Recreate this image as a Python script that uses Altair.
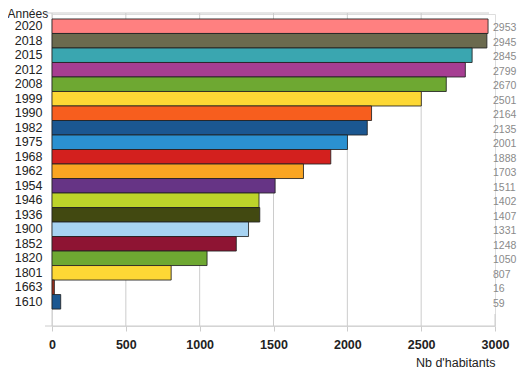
import altair as alt
import pandas as pd

years = ["2020", "2018", "2015", "2012", "2008", "1999", "1990", "1982", "1975", "1968",
         "1962", "1954", "1946", "1936", "1900", "1852", "1820", "1801", "1663", "1610"]
population = [2953, 2945, 2845, 2799, 2670, 2501, 2164, 2135, 2001, 1888,
              1703, 1511, 1402, 1407, 1331, 1248, 1050, 807, 16, 59]
bar_colors = ["#FF8080", "#6B6A4E", "#3AA6B0", "#A63E92", "#6EA832", "#FDD835", "#F75E1E",
              "#1B5791", "#2B91D1", "#D3201E", "#F9A522", "#663485", "#BDD42A", "#424911",
              "#A7D3F2", "#8E1433", "#6EA832", "#FDD835", "#A0301E", "#1B5791"]
tick_values = [0, 500, 1000, 1500, 2000, 2500, 3000]
grid_values = [0, 500, 1000, 1500, 2000, 2500]

df = pd.DataFrame({"annee": years, "habitants": population})
grid_df = pd.DataFrame({"v": grid_values})
last_df = pd.DataFrame({"v": [3000]})
one_df = pd.DataFrame({"v": [0]})

W, H = 443, 312
FONT = "Liberation Sans"
GRID = "#cccccc"

y_scale = alt.Scale(domain=years, paddingInner=0, paddingOuter=0.756, align=0.227)
x_scale = alt.Scale(domain=[0, 3000], nice=False, zero=True)

y_axis = alt.Axis(title="Années", titleAngle=0, titleAlign="left", titleBaseline="alphabetic",
                  titleX=-45, titleY=3, titleFontWeight="normal", titleFontSize=12,
                  titleColor="#222222", titleFont=FONT, labelFont=FONT, labelFontSize=12.5,
                  labelColor="#222222", labelPadding=10, ticks=False, domain=False, grid=False)
x_axis = alt.Axis(values=tick_values, format="d", title="Nb d'habitants", titleX=W,
                  titleAlign="right", titleY=40, titleBaseline="alphabetic",
                  titleFontWeight="normal", titleFontSize=12.5, titleColor="#222222",
                  titleFont=FONT, labelFont=FONT, labelFontWeight="bold", labelFontSize=12.5,
                  labelColor="#222222", labelPadding=7, tickSize=5, tickColor=GRID,
                  domain=False, grid=False, labelFlush=False)

grid = alt.Chart(grid_df).mark_rule(color=GRID, strokeWidth=1).encode(
    x=alt.X("v:Q", scale=x_scale, axis=x_axis), y=alt.value(-1), y2=alt.value(H))
grid_last = alt.Chart(last_df).mark_rule(color=GRID, strokeWidth=1).encode(
    x=alt.X("v:Q", scale=x_scale, axis=x_axis), y=alt.value(300), y2=alt.value(H))
top_line = alt.Chart(one_df).mark_rule(color=GRID, strokeWidth=1).encode(
    x=alt.value(-7), x2=alt.value(W - 6), y=alt.value(-1))
bottom_line = alt.Chart(one_df).mark_rule(color=GRID, strokeWidth=1).encode(
    x=alt.value(-7), x2=alt.value(W), y=alt.value(H))

bars = alt.Chart(df).mark_bar(stroke="#222222", strokeWidth=1, strokeOpacity=0.85).encode(
    y=alt.Y("annee:N", scale=y_scale, axis=y_axis, sort=years),
    x=alt.X("habitants:Q", scale=x_scale, axis=x_axis),
    color=alt.Color("annee:N", scale=alt.Scale(domain=years, range=bar_colors), legend=None),
)

labels = alt.Chart(df).mark_text(align="left", baseline="middle", dy=2, color="#8a8a8a",
                                 fontSize=10.5, font=FONT).encode(
    y=alt.Y("annee:N", scale=y_scale, axis=y_axis, sort=years),
    x=alt.value(W - 2),
    text=alt.Text("habitants:Q"),
)

chart = alt.layer(grid, grid_last, top_line, bottom_line, bars, labels).properties(
    width=W, height=H,
    padding={"left": 44, "top": 6, "right": 22, "bottom": 43},
    autosize=alt.AutoSizeParams(type="none"),
).configure_view(stroke=None).configure(font=FONT)

chart.save("out.html", embed_options={"renderer": "svg", "actions": False})
